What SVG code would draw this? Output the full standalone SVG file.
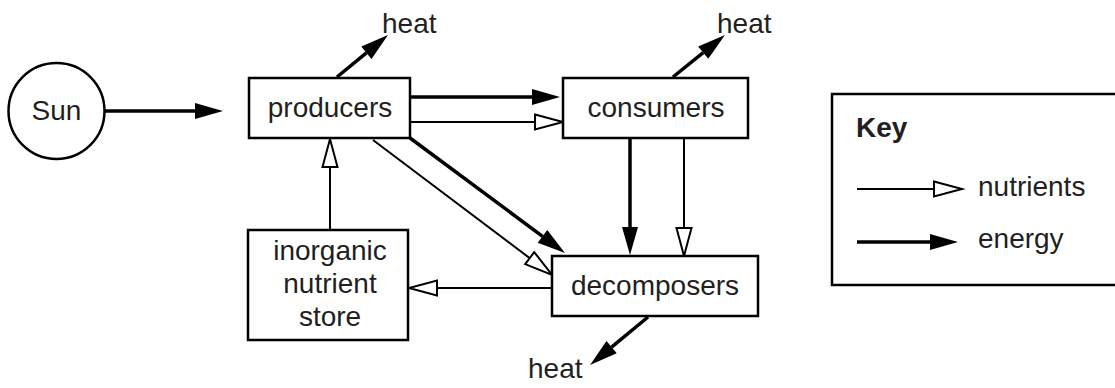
<svg xmlns="http://www.w3.org/2000/svg" width="1115" height="388" viewBox="0 0 1115 388">
<style>
  text { font-family: "Liberation Sans", Arial, sans-serif; font-size: 28px; fill: #231f20; }
  .box { fill: #fff; stroke: #000; stroke-width: 2.5; }
  .thin { stroke: #000; stroke-width: 2; fill: none; }
  .thick { stroke: #000; stroke-width: 3.5; fill: none; }
  .nut { marker-end: url(#open); }
  .en { marker-end: url(#solid); }
</style>
<defs>
  <marker id="solid" markerUnits="userSpaceOnUse" markerWidth="30" markerHeight="18" refX="0" refY="8" orient="auto" overflow="visible">
    <path d="M0,0 L28,8 L0,16 z" fill="#000" stroke="none"/>
  </marker>
  <marker id="open" markerUnits="userSpaceOnUse" markerWidth="30" markerHeight="18" refX="0" refY="8" orient="auto" overflow="visible">
    <path d="M0,0.5 L28,8 L0,15.5 z" fill="#fff" stroke="#000" stroke-width="2" stroke-linejoin="miter"/>
  </marker>
</defs>
<rect width="1115" height="388" fill="#fff"/>

<g id="connectors">
  <line class="thick en" x1="105" y1="111" x2="195" y2="111"/>
  <line class="thick en" x1="410" y1="97" x2="532" y2="97"/>
  <line class="thin nut" x1="410" y1="122" x2="535" y2="122"/>
  <line class="thick en" x1="630" y1="138" x2="630" y2="227"/>
  <line class="thin nut" x1="684" y1="138" x2="684" y2="228"/>
  <line class="thin nut" x1="330" y1="230" x2="330" y2="167"/>
  <line class="thin nut" x1="552" y1="288" x2="437" y2="288"/>
  <line class="thick en" x1="410" y1="138" x2="542.5" y2="236.3"/>
  <line class="thin nut" x1="373" y1="140" x2="529.7" y2="258.1"/>
  <line class="thick en" x1="337" y1="77" x2="366.4" y2="52.8"/>
  <line class="thick en" x1="673" y1="77" x2="703.2" y2="52.6"/>
  <line class="thick en" x1="648" y1="317" x2="611.6" y2="347.2"/>
</g>

<g id="sun">
  <circle cx="56.5" cy="111" r="48" fill="#fff" stroke="#000" stroke-width="2.5"/>
  <text x="56.5" y="120" text-anchor="middle">Sun</text>
</g>
<g id="producers">
  <rect class="box" x="249" y="78" width="161" height="60"/>
  <text x="330" y="117" text-anchor="middle">producers</text>
</g>
<g id="consumers">
  <rect class="box" x="563" y="78" width="185" height="60"/>
  <text x="656" y="117" text-anchor="middle">consumers</text>
</g>
<g id="decomposers">
  <rect class="box" x="552" y="256" width="206" height="60"/>
  <text x="655" y="295" text-anchor="middle">decomposers</text>
</g>
<g id="inorganic">
  <rect class="box" x="248" y="230" width="160" height="110"/>
  <text x="330" y="260" text-anchor="middle">inorganic</text>
  <text x="330" y="293" text-anchor="middle">nutrient</text>
  <text x="330" y="326" text-anchor="middle">store</text>
</g>
<g id="heat-labels">
  <text x="382" y="33">heat</text>
  <text x="717" y="33">heat</text>
  <text x="528" y="378">heat</text>
</g>

<g id="key">
  <rect x="832" y="94" width="300" height="191" fill="#fff" stroke="#000" stroke-width="2.5"/>
  <text x="856" y="137" font-weight="bold">Key</text>
  <line class="thin nut" x1="857" y1="189" x2="934" y2="189"/>
  <text x="978" y="196">nutrients</text>
  <line class="thick en" x1="857" y1="242" x2="930" y2="242"/>
  <text x="978" y="248">energy</text>
</g>
</svg>
